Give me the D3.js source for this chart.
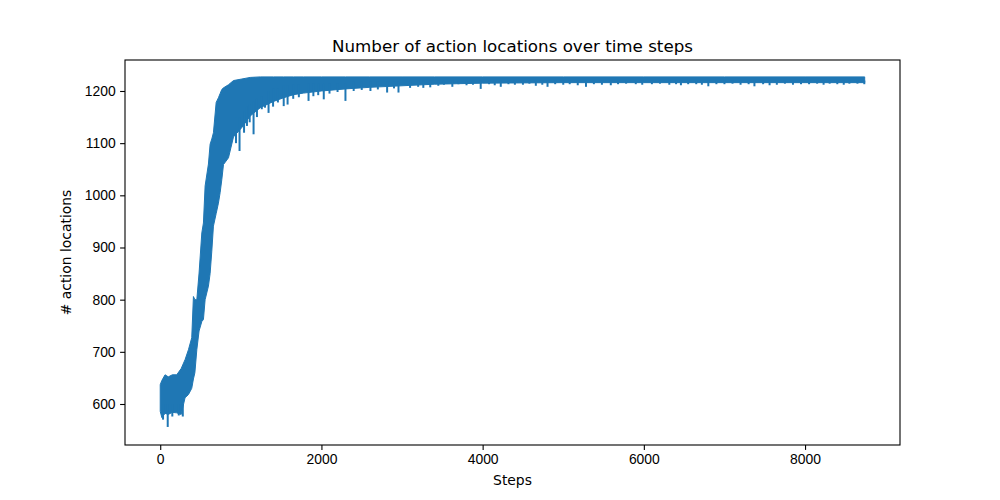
<!DOCTYPE html>
<html>
<head>
<meta charset="utf-8">
<script src="https://cdn.jsdelivr.net/npm/d3@7"></script>
<style>
  body { margin: 0; background: #fff; }
  svg { display: block; font-family: "DejaVu Sans", sans-serif; }
  .tick text { font-size: 13.9px; fill: #000; }
  .tick line { stroke: #000; stroke-width: 1.1; }
</style>
</head>
<body>
<svg id="chart" width="1000" height="500"></svg>
<script>
// envelope of the noisy series (step, lower edge, upper edge)
const steps = [0, 20, 60, 100, 150, 205, 260, 308, 350, 391, 412, 430, 454, 482, 516, 536, 557,
  598, 619, 640, 660, 694, 722, 743, 764, 785, 847, 909, 1013, 1116, 1241, 1406, 1531, 1655,
  1780, 2000, 2300, 2600, 3000, 3400, 4000, 5000, 6000, 7000, 8000, 8740];
const lowValues = [586, 574, 582, 580, 584, 583, 580, 612, 618, 630, 648, 660, 704, 740, 758, 762, 800,
  826, 850, 893, 941, 965, 985, 1005, 1030, 1059, 1072, 1112, 1130, 1152, 1168, 1180, 1187, 1193,
  1196, 1200, 1204, 1207, 1210, 1213, 1215, 1216, 1216, 1216, 1216, 1216];
const highValues = [637, 645, 656, 652, 656, 656, 668, 685, 704, 727, 806, 800, 800, 851, 928, 947, 1018,
  1060, 1098, 1108, 1120, 1178, 1187, 1195, 1203, 1206, 1212, 1220, 1223, 1226, 1227, 1227, 1227, 1227,
  1227, 1227, 1227, 1227, 1227, 1227, 1227, 1227, 1227, 1227, 1227, 1227];

// single downward excursions (step, lowest value, value where the excursion starts)
const spikeSteps = [35, 93, 150, 230, 280,
  940, 984, 1040, 1076, 1110, 1158, 1200, 1260, 1300, 1344, 1400, 1460, 1532, 1580, 1650, 1720,
  1840, 1900, 1960, 2029, 2100, 2200, 2298, 2400, 2500, 2608, 2700, 2815, 2900, 2956, 3100, 3200,
  3264, 3350, 3450, 3520, 3624, 3700, 3800, 3880, 3976, 4080, 4150, 4225, 4320, 4400, 4500, 4580,
  4660, 4740, 4805, 4900, 5000, 5080, 5180, 5282, 5380, 5480, 5590, 5680, 5780, 5900, 5980, 6100,
  6200, 6316, 6400, 6460, 6550, 6650, 6720, 6800, 6900, 7000, 7100, 7200, 7300, 7372, 7480, 7560,
  7650, 7750, 7850, 7950, 8050, 8150, 8230, 8305, 8400, 8480, 8550, 8650, 8735];
const spikeLows = [570, 556, 576, 578, 576,
  1100, 1085, 1120, 1133, 1140, 1117, 1150, 1165, 1168, 1158, 1170, 1178, 1171, 1174, 1185, 1188,
  1181, 1190, 1192, 1184, 1195, 1198, 1181, 1200, 1202, 1200, 1203, 1197, 1205, 1197, 1206, 1208,
  1206, 1207, 1210, 1212, 1208, 1213, 1211, 1212, 1204, 1213, 1211, 1208, 1213, 1212, 1212, 1214,
  1210, 1212, 1208, 1213, 1212, 1213, 1211, 1208, 1213, 1212, 1211, 1213, 1214, 1213, 1212, 1213,
  1214, 1212, 1213, 1211, 1213, 1213, 1212, 1209, 1213, 1213, 1214, 1212, 1213, 1209, 1213, 1211,
  1212, 1214, 1212, 1213, 1213, 1214, 1212, 1214, 1213, 1212, 1214, 1214, 1213];
const spikeTops = [600, 600, 600, 600, 600,
  1150, 1150, 1160, 1170, 1175, 1180, 1185, 1190, 1200, 1200, 1205, 1205, 1210, 1210, 1212, 1212,
  1215, 1215, 1215, 1215, 1215, 1215, 1215, 1218, 1218, 1218, 1218, 1218, 1218, 1218, 1220, 1220,
  1220, 1220, 1220, 1220, 1220, 1220, 1220, 1220, 1220, 1220, 1220, 1220, 1220, 1220, 1220, 1220,
  1220, 1220, 1220, 1220, 1220, 1220, 1220, 1220, 1220, 1220, 1220, 1220, 1220, 1220, 1220, 1220,
  1220, 1220, 1220, 1220, 1220, 1220, 1220, 1220, 1220, 1220, 1220, 1220, 1220, 1220, 1220, 1220,
  1220, 1220, 1220, 1220, 1220, 1220, 1220, 1220, 1220, 1220, 1220, 1220, 1220];

const xTicks = [0, 2000, 4000, 6000, 8000];
const yTicks = [600, 700, 800, 900, 1000, 1100, 1200];

const plotLeft = 125, plotRight = 900, plotTop = 60, plotBottom = 445;
const lineColor = '#1f77b4';

const svg = d3.select('#chart');

const x = d3.scaleLinear().domain([-437, 9178]).range([plotLeft, plotRight]);
const y = d3.scaleLinear().domain([521.4, 1259.4]).range([plotBottom, plotTop]);

const band = steps.map((s, i) => ({ step: s, lo: lowValues[i], hi: highValues[i] }));
const spikes = spikeSteps.map((s, i) => ({ step: s, lo: spikeLows[i], hi: spikeTops[i] }));

const plot = svg.append('g');

plot.append('path')
  .datum(band)
  .attr('fill', lineColor)
  .attr('stroke', lineColor)
  .attr('stroke-width', 1)
  .attr('stroke-linejoin', 'round')
  .attr('d', d3.area()
    .x(d => x(d.step))
    .y0(d => y(d.lo))
    .y1(d => y(d.hi)));

plot.selectAll('line.spike')
  .data(spikes)
  .enter().append('line')
  .attr('class', 'spike')
  .attr('x1', d => x(d.step))
  .attr('x2', d => x(d.step))
  .attr('y1', d => y(d.hi))
  .attr('y2', d => y(d.lo))
  .attr('stroke', lineColor)
  .attr('stroke-width', 2);

// axes
const xAxis = svg.append('g')
  .attr('transform', `translate(0,${plotBottom})`)
  .call(d3.axisBottom(x).tickValues(xTicks).tickFormat(d3.format('d')).tickSize(4.9).tickPadding(4));
xAxis.select('.domain').remove();

const yAxis = svg.append('g')
  .attr('transform', `translate(${plotLeft},0)`)
  .call(d3.axisLeft(y).tickValues(yTicks).tickFormat(d3.format('d')).tickSize(4.9).tickPadding(4.5));
yAxis.select('.domain').remove();

svg.append('rect')
  .attr('x', plotLeft)
  .attr('y', plotTop)
  .attr('width', plotRight - plotLeft)
  .attr('height', plotBottom - plotTop)
  .attr('fill', 'none')
  .attr('stroke', '#000')
  .attr('stroke-width', 1.1);

svg.append('text')
  .attr('x', (plotLeft + plotRight) / 2)
  .attr('y', 52)
  .attr('text-anchor', 'middle')
  .style('font-size', '16.7px')
  .text('Number of action locations over time steps');

svg.append('text')
  .attr('x', (plotLeft + plotRight) / 2)
  .attr('y', 485)
  .attr('text-anchor', 'middle')
  .style('font-size', '13.9px')
  .text('Steps');

svg.append('text')
  .attr('transform', `translate(71,${(plotTop + plotBottom) / 2}) rotate(-90)`)
  .attr('text-anchor', 'middle')
  .style('font-size', '13.9px')
  .text('# action locations');
</script>
</body>
</html>
